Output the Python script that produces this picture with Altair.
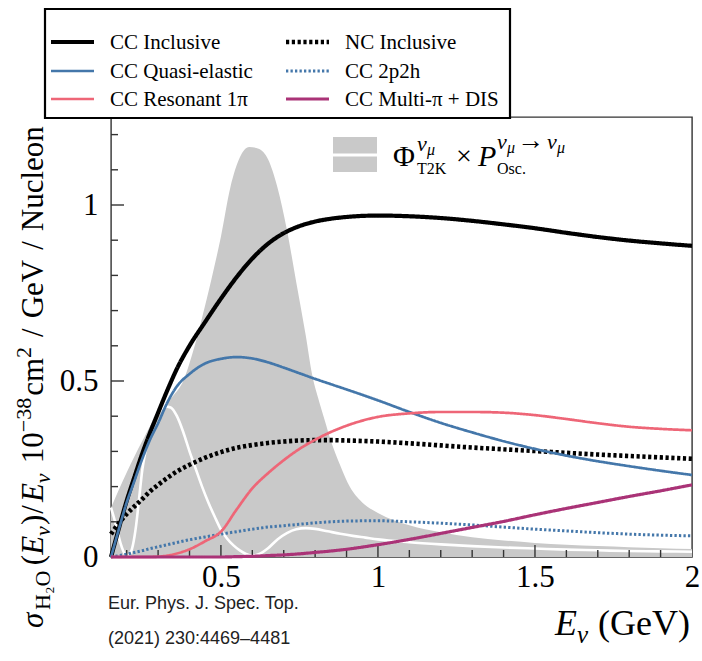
import altair as alt
import pandas as pd

# ---------------- data ----------------
energy = [0.15, 0.17, 0.2, 0.22, 0.25, 0.275, 0.3, 0.33, 0.36, 0.4, 0.45, 0.5, 0.55, 0.6,
          0.65, 0.7, 0.75, 0.8, 0.85, 0.9, 1.0, 1.1, 1.2, 1.3, 1.4, 1.5, 1.6, 1.7, 1.8, 1.9, 2.0]
cc_inclusive = [0.0, 0.065, 0.16, 0.215, 0.295, 0.355, 0.41, 0.475, 0.535, 0.6, 0.668, 0.734, 0.795, 0.848,
                0.89, 0.92, 0.94, 0.953, 0.961, 0.966, 0.97, 0.968, 0.963, 0.955, 0.945, 0.934, 0.921,
                0.909, 0.899, 0.891, 0.884]
nc_inclusive = [0.065, 0.09, 0.122, 0.14, 0.165, 0.187, 0.205, 0.225, 0.243, 0.262, 0.282, 0.298, 0.31,
                0.318, 0.324, 0.328, 0.331, 0.332, 0.332, 0.331, 0.328, 0.323, 0.317, 0.311, 0.306,
                0.301, 0.296, 0.291, 0.287, 0.283, 0.279]
cc_qe = [0.0, 0.063, 0.155, 0.205, 0.28, 0.335, 0.38, 0.44, 0.485, 0.52, 0.55, 0.563, 0.568, 0.564,
         0.553, 0.538, 0.522, 0.506, 0.491, 0.476, 0.445, 0.412, 0.381, 0.354, 0.329, 0.307, 0.288,
         0.272, 0.258, 0.245, 0.233]
cc_2p2h = [0.0, 0.003, 0.008, 0.012, 0.018, 0.024, 0.029, 0.035, 0.041, 0.049, 0.057, 0.065, 0.072,
           0.079, 0.085, 0.089, 0.093, 0.097, 0.1, 0.102, 0.103, 0.1, 0.096, 0.091, 0.085, 0.079,
           0.074, 0.069, 0.065, 0.062, 0.06]
cc_res = [0.0, 0.0, 0.0, 0.0, 0.0, 0.0, 0.001, 0.004, 0.01, 0.022, 0.045, 0.072, 0.135, 0.195,
          0.238, 0.275, 0.307, 0.333, 0.355, 0.373, 0.398, 0.408, 0.412, 0.412, 0.41, 0.403, 0.392,
          0.38, 0.37, 0.364, 0.36]
cc_multi = [0.0, 0.0, 0.0, 0.0, 0.0, 0.0, 0.0, 0.0, 0.0, 0.0, 0.0, 0.0, 0.001, 0.002,
            0.004, 0.006, 0.009, 0.013, 0.017, 0.022, 0.035, 0.05, 0.067, 0.084, 0.101, 0.12, 0.138,
            0.155, 0.172, 0.188, 0.205]

flux_energy = [0.15, 0.2, 0.25, 0.3, 0.33, 0.35, 0.38, 0.41, 0.44, 0.47, 0.5, 0.53, 0.56, 0.59,
               0.62, 0.65, 0.68, 0.71, 0.74, 0.77, 0.79, 0.81, 0.83, 0.85, 0.88, 0.91, 0.95, 1.0,
               1.1, 1.2, 1.3, 1.4, 1.5, 1.6, 1.7, 1.8, 1.9, 2.0]
flux_value = [0.14, 0.24, 0.33, 0.41, 0.44, 0.46, 0.5, 0.58, 0.68, 0.79, 0.91, 1.05, 1.135, 1.165,
              1.16, 1.13, 1.05, 0.93, 0.78, 0.63, 0.52, 0.45, 0.39, 0.33, 0.26, 0.2, 0.155, 0.125,
              0.09, 0.07, 0.056, 0.047, 0.04, 0.035, 0.031, 0.028, 0.025, 0.023]

osc_energy = [0.15, 0.16, 0.17, 0.18, 0.19, 0.2, 0.21, 0.22, 0.23, 0.24, 0.25, 0.26, 0.27, 0.28,
              0.3, 0.32, 0.34, 0.36, 0.38, 0.4, 0.42, 0.44, 0.46, 0.48, 0.5, 0.52, 0.54, 0.56,
              0.58, 0.6, 0.62, 0.65, 0.68, 0.71, 0.74, 0.77, 0.8, 0.84, 0.88, 0.92, 0.96, 1.0,
              1.1, 1.2, 1.3, 1.4, 1.5, 1.6, 1.7, 1.8, 1.9, 2.0]
osc_value = [0.14, 0.11, 0.075, 0.04, 0.015, 0.002, 0.008, 0.035, 0.09, 0.17, 0.25, 0.3, 0.34, 0.37,
             0.405, 0.428, 0.425, 0.4, 0.355, 0.3, 0.25, 0.2, 0.155, 0.115, 0.078, 0.052, 0.033, 0.019,
             0.009, 0.004, 0.008, 0.025, 0.05, 0.068, 0.079, 0.082, 0.08, 0.073, 0.066, 0.06, 0.055, 0.05,
             0.042, 0.036, 0.031, 0.027, 0.024, 0.021, 0.019, 0.017, 0.016, 0.015]

series_names = ["CC Inclusive", "NC Inclusive", "CC Quasi-elastic", "CC 2p2h",
                "CC Resonant 1π", "CC Multi-π + DIS"]
series_values = [cc_inclusive, nc_inclusive, cc_qe, cc_2p2h, cc_res, cc_multi]

x_major = [0.5, 1.0, 1.5]
x_minor = [0.2, 0.3, 0.4, 0.6, 0.7, 0.8, 0.9, 1.1, 1.2, 1.3, 1.4, 1.6, 1.7, 1.8, 1.9]
y_major = [0.5, 1.0]
y_minor = [0.1, 0.2, 0.3, 0.4, 0.6, 0.7, 0.8, 0.9, 1.1, 1.2]
x_labels = [0.5, 1, 1.5, 2]
y_labels = [0, 0.5, 1]

# ---------------- styles ----------------
style = {
    "CC Inclusive": ("#000000", [1, 0], 4.2),
    "NC Inclusive": ("#000000", [3.2, 2.6], 4.6),
    "CC Quasi-elastic": ("#4477AA", [1, 0], 2.7),
    "CC 2p2h": ("#4477AA", [2.3, 2.2], 3.0),
    "CC Resonant 1π": ("#EE6677", [1, 0], 2.7),
    "CC Multi-π + DIS": ("#AA3377", [1, 0], 3.2),
}
legend_cols = [["CC Inclusive", "CC Quasi-elastic", "CC Resonant 1π"],
               ["NC Inclusive", "CC 2p2h", "CC Multi-π + DIS"]]

W, H = 581, 440
SERIF = "Liberation Serif"

rows = []
for name, vals in zip(series_names, series_values):
    for e, v in zip(energy, vals):
        rows.append({"series": name, "E": e, "v": v, "w": style[name][2]})
curves = pd.DataFrame(rows)
flux = pd.DataFrame({"E": flux_energy, "v": flux_value})
osc = pd.DataFrame({"E": osc_energy, "v": osc_value})

xs = alt.Scale(domain=[0.15, 2.0], nice=False, zero=False)
ys = alt.Scale(domain=[0, 1.25], nice=False, zero=False)
ax_x = alt.Axis(values=x_labels, format="~g", title=None, grid=False, domain=False, ticks=False,
                tickSize=0, labelFont=SERIF, labelFontSize=31, labelColor="black", labelPadding=5,
                labelFlush=False)
ax_y = alt.Axis(values=y_labels, format="~g", title=None, grid=False, domain=False, ticks=False,
                tickSize=0, labelFont=SERIF, labelFontSize=31, labelColor="black", labelPadding=13)

area = alt.Chart(flux).mark_area(color="#c9c9c9", interpolate="monotone").encode(
    x=alt.X("E:Q", scale=xs, axis=ax_x), y=alt.Y("v:Q", scale=ys, axis=ax_y))

white = alt.Chart(osc).mark_line(color="white", strokeWidth=2.6, interpolate="monotone").encode(
    x=alt.X("E:Q", scale=xs, axis=ax_x), y=alt.Y("v:Q", scale=ys, axis=ax_y))


def xticks(vals, length):
    return alt.Chart(pd.DataFrame({"t": vals})).mark_rule(color="#333333", strokeWidth=1.4).encode(
        x=alt.X("t:Q", scale=xs, axis=ax_x), y=alt.value(H), y2=alt.value(H - length))


def yticks(vals, length):
    return alt.Chart(pd.DataFrame({"t": vals})).mark_rule(color="#333333", strokeWidth=1.4).encode(
        y=alt.Y("t:Q", scale=ys, axis=ax_y), x=alt.value(0), x2=alt.value(length))


lines = alt.Chart(curves).mark_line(interpolate="monotone").encode(
    x=alt.X("E:Q", scale=xs, axis=ax_x),
    y=alt.Y("v:Q", scale=ys, axis=ax_y),
    color=alt.Color("series:N", scale=alt.Scale(domain=series_names,
                                               range=[style[n][0] for n in series_names]), legend=None),
    strokeDash=alt.StrokeDash("series:N", scale=alt.Scale(domain=series_names,
                                                         range=[style[n][1] for n in series_names]),
                              legend=None),
    strokeWidth=alt.StrokeWidth("w:Q", scale=None),
)


def one():
    return alt.Chart(pd.DataFrame({"a": [0]}))


def txt(s, x, y, size, fstyle="normal", font=SERIF, angle=0, align="left", color="black",
        baseline="alphabetic"):
    return alt.Chart(pd.DataFrame({"t": [s]})).mark_text(
        align=align, baseline=baseline, font=font, fontSize=size, fontStyle=fstyle,
        angle=angle, color=color).encode(text="t:N", x=alt.value(x), y=alt.value(y))


# ---------------- series legend (boxed, two columns) ----------------
legend = [one().mark_rect(fill="white", stroke="black", strokeWidth=2.2).encode(
    x=alt.value(-66), x2=alt.value(399), y=alt.value(-108), y2=alt.value(1))]
col_x = [-60, 175]
row_y = [-75, -46, -18]
for ci, col in enumerate(legend_cols):
    for ri, name in enumerate(col):
        c, d, w = style[name]
        legend.append(one().mark_rule(color=c, strokeDash=d, strokeWidth=w).encode(
            x=alt.value(col_x[ci]), x2=alt.value(col_x[ci] + 43), y=alt.value(row_y[ri])))
        legend.append(txt(name, col_x[ci] + 59, row_y[ri] + 1, 21, baseline="middle"))

# approximate Times advance widths (em) for laying out rich text pieces
WID = {" ": .25, "(": .333, ")": .333, "/": .278, "−": .564, "c": .444, "m": .778, "G": .722,
       "e": .444, "V": .722, "N": .722, "u": .5, "l": .278, "o": .5, "n": .5, "H": .722, "O": .722,
       "₂": .5, "E": .611, "σ": .55, "ν": .45}


def tw(s, size):
    return sum(WID.get(ch, .5) for ch in s) * size


# y-axis title, rotated, built bottom to top: (text, size, style, baseline shift, gap before)
f, s = 31, 22
pieces = [("σ", f, "italic", 0, 0), ("H₂O", s, "normal", 7, 1), ("(", f, "normal", 0, 2),
          ("E", f, "italic", 0, 0), ("ν", s, "italic", 7, 0), (")", f, "normal", 0, 1),
          ("/", f, "normal", 0, 1), ("E", f, "italic", 0, 3), ("ν", s, "italic", 7, 0),
          ("10", f, "normal", 0, 10), ("−38", s, "normal", -12, 0), ("cm", f, "normal", 0, 2),
          ("2", s, "normal", -12, 0), ("/", f, "normal", 0, 10), ("GeV", f, "normal", 0, 10),
          ("/", f, "normal", 0, 10), ("Nucleon", f, "normal", 0, 10)]
ytitle = []
ypos = 511.0
base_x = -68
for text, size, fs, shift, gap in pieces:
    ypos -= gap
    ytitle.append(txt(text, base_x + shift, ypos, size, fs, angle=270))
    ypos -= tw(text, size)

# x-axis title
xt = [txt("(GeV)", 579, 518, 36, align="right"),
      txt("ν", 466, 526, 25, "italic"),
      txt("E", 444, 518, 36, "italic")]

# flux legend
flux_key = [
    one().mark_rect(color="#c9c9c9").encode(
        x=alt.value(222), x2=alt.value(266), y=alt.value(20), y2=alt.value(55)),
    one().mark_rule(color="white", strokeWidth=3).encode(
        x=alt.value(222), x2=alt.value(266), y=alt.value(38)),
    txt("Φ", 282, 49, 30), txt("ν", 306, 34, 22, "italic"), txt("μ", 316, 38, 16, "italic"),
    txt("T2K", 306, 57, 16), txt("×", 345, 48, 28), txt("P", 367, 49, 30, "italic"),
    txt("ν", 386, 32, 22, "italic"), txt("μ", 396, 36, 16, "italic"), txt("→", 406, 32, 27),
    txt("ν", 436, 32, 22, "italic"), txt("μ", 446, 36, 16, "italic"), txt("Osc.", 386, 57, 16),
]

cite = [txt("Eur. Phys. J. Spec. Top.", -3, 492, 18, font="Liberation Sans", color="#222222"),
        txt("(2021) 230:4469–4481", -3, 527, 18, font="Liberation Sans", color="#222222")]

layers = [area, white, xticks(x_major, 12), xticks(x_minor, 7), yticks(y_major, 13),
          yticks(y_minor, 7), lines] + flux_key + legend + ytitle + xt + cite

chart = alt.layer(*layers).properties(
    width=W, height=H,
    padding={"left": 111, "top": 117, "right": 10, "bottom": 104},
    autosize=alt.AutoSizeParams(type="none"),
).configure_view(stroke="#333333", strokeWidth=1.4)

chart.save("out.html", embed_options={"renderer": "svg", "actions": False})
